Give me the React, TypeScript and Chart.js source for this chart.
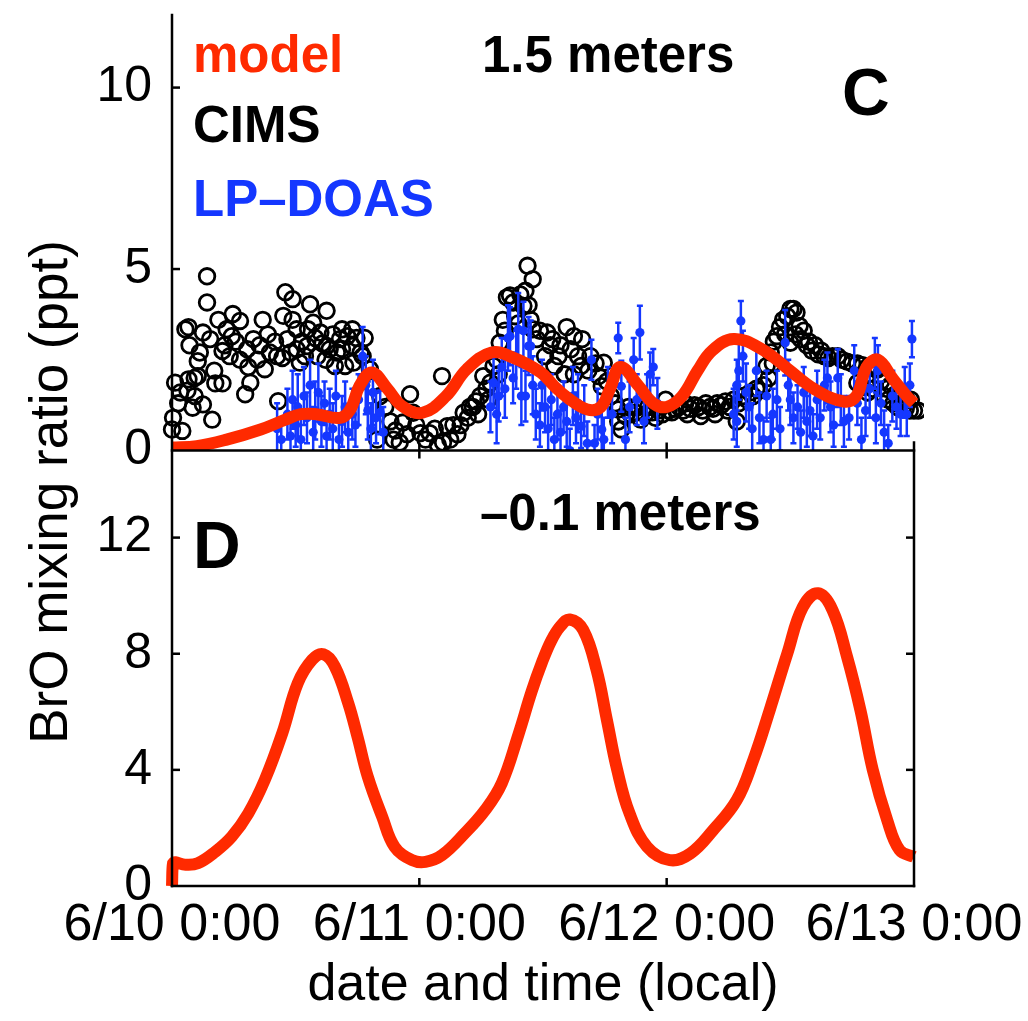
import { useEffect, useRef } from 'react';
import { Chart, registerables } from 'chart.js';

Chart.register(...registerables);

const FONT = "'Liberation Sans', Arial, Helvetica, sans-serif";
const RED = '#ff2a00';
const BLUE = '#1437ff';

// x axis: hours since 6/10 0:00 (local)
const xTickHours = [0, 24, 48, 72];
const xTickLabels = ['6/10 0:00', '6/11 0:00', '6/12 0:00', '6/13 0:00'];
const topTicks = [0, 5, 10];
const bottomTicks = [0, 4, 8, 12];

const legendLabels = ['model', 'CIMS', 'LP–DOAS'];
const panelTitles = ['1.5 meters', '–0.1 meters'];
const panelLetters = ['C', 'D'];
const xTitle = 'date and time (local)';
const yTitle = 'BrO mixing ratio (ppt)';

// model at 1.5 m  [hour, ppt]
const modelAir: [number, number][] = [
  [0, 0.08], [2.4, 0.12], [5.3, 0.3], [8.6, 0.58], [11, 0.85], [12.5, 1.0], [14, 1.0],
  [16.3, 0.9], [17.3, 1.13], [18.2, 1.78], [19.4, 2.15], [20.9, 1.7], [22.3, 1.23],
  [24.3, 1.04], [26.6, 1.5], [28.6, 2.24], [31, 2.7], [33.1, 2.56], [35.8, 2.15],
  [37.1, 1.77], [38.4, 1.45], [40.3, 1.13], [41.6, 1.2], [42.5, 1.7], [43.5, 2.3],
  [45.3, 1.77], [46.7, 1.3], [48.0, 1.2], [49.5, 1.5], [51.0, 2.2], [52.4, 2.75],
  [54.5, 3.07], [57.2, 2.8], [59.8, 2.24], [62.4, 1.68], [65.2, 1.35], [66.4, 1.5],
  [67.4, 2.3], [68.5, 2.5], [70.0, 1.96], [71.3, 1.5], [72, 1.3],
];

// model at -0.1 m (snowpack)  [hour, ppt]
const modelSnow: [number, number][] = [
  [0, 0], [0.1, 0.78], [1.3, 0.73], [2.5, 0.78], [4.2, 1.18], [5.8, 1.7], [7.4, 2.5],
  [9.0, 3.65], [10.7, 5.26], [12.2, 6.98], [13.6, 7.79], [14.7, 7.98], [15.8, 7.56],
  [17.1, 6.3], [18.0, 5.14], [19.0, 3.76], [20.4, 2.38], [21.6, 1.35], [23.3, 0.89],
  [24.6, 0.83], [26.2, 1.06], [28.4, 1.81], [30.4, 2.62], [32.0, 3.54], [33.6, 5.2],
  [34.9, 6.7], [35.9, 7.7], [36.8, 8.45], [37.7, 8.95], [38.6, 9.18], [39.9, 8.82], [41.2, 7.44],
  [42.2, 5.72], [43.2, 4.0], [44.4, 2.5], [46.1, 1.35], [48.3, 0.89], [50.3, 1.12],
  [52.5, 1.92], [54.8, 2.96], [56.4, 4.33], [58.0, 6.06], [59.7, 8.0], [61.2, 9.6],
  [62.7, 10.08], [64.1, 9.5], [65.5, 7.9], [66.8, 6.06], [68.0, 4.0], [69.4, 2.27],
  [70.6, 1.24], [72.0, 1.0],
];

// CIMS observations  [hour, ppt]
const cims: [number, number][] = [
  [0.0, 0.58], [1.0, 0.54], [0.1, 0.9], [0.3, 1.87], [0.8, 1.6], [1.5, 1.65], [1.6, 1.96],
  [1.6, 3.4], [1.3, 3.34], [2.2, 2.0], [2.5, 2.05], [2.0, 1.18], [3.0, 1.27], [2.5, 2.46],
  [3.9, 0.85], [3.4, 4.8], [3.4, 4.08], [3.0, 3.25], [3.7, 3.07], [4.2, 1.85], [4.9, 1.85],
  [4.5, 3.6], [5.3, 3.34], [4.9, 2.74], [5.9, 3.76], [6.6, 3.57], [5.8, 3.15], [6.6, 2.5],
  [1.7, 2.9], [2.7, 2.7], [5.1, 2.9], [6.2, 3.0], [4.1, 2.2], [5.6, 2.6], [0.6, 1.3], [2.2, 1.5],
  [7.1, 1.55], [7.6, 1.87], [7.3, 2.79], [7.9, 3.07], [8.3, 2.5], [8.8, 3.6], [9.0, 2.24],
  [9.5, 2.7], [10.2, 2.6], [10.3, 1.36], [11.0, 4.36], [11.7, 4.17], [10.8, 3.71], [11.7, 3.6],
  [12.1, 3.34], [11.2, 3.07], [12.1, 2.79], [13.4, 4.03], [13.2, 3.34], [13.1, 2.88],
  [13.7, 3.52], [15.0, 3.85], [14.4, 3.25], [15.0, 2.88], [14.1, 2.6], [15.3, 2.79],
  [12.4, 2.42], [16.5, 3.34], [17.0, 3.15], [17.5, 3.34], [16.3, 3.07], [17.5, 2.88],
  [15.8, 2.33], [16.8, 2.33], [17.6, 2.42], [18.3, 2.7], [18.5, 2.6], [19.2, 2.24],
  [19.5, 1.77], [20.2, 1.5], [8.5, 2.9], [10.0, 3.0], [12.6, 3.0], [14.6, 2.95], [16.0, 2.7],
  [17.9, 3.1], [9.3, 3.2], [11.5, 2.7], [13.9, 3.1], [15.6, 3.2], [7.4, 2.3], [10.7, 2.55],
  [12.9, 2.6], [14.9, 2.5], [16.5, 2.8], [18.7, 3.1],
  [19.9, 0.3], [21.2, 0.8], [21.5, 0.3], [22.1, 0.22], [22.4, 0.77], [23.1, 1.55], [23.4, 1.04],
  [24.1, 0.48], [25.0, 0.48], [26.2, 2.05], [26.7, 0.67], [26.3, 0.22], [27.3, 0.7], [28.0, 0.7],
  [28.3, 1.04], [20.7, 1.2], [21.7, 0.55], [22.8, 0.45], [23.7, 0.7], [24.6, 0.3], [25.5, 0.6],
  [25.8, 0.15], [27.0, 0.3], [27.7, 0.45], [28.7, 0.9],
  [28.9, 1.2], [29.2, 1.2], [29.9, 1.5], [30.2, 2.05], [30.9, 1.87], [31.2, 2.33], [31.8, 2.97],
  [32.5, 4.22], [32.8, 4.27], [32.1, 3.6], [33.1, 4.08], [34.5, 5.09], [35.0, 4.72], [34.3, 4.4],
  [34.1, 3.98], [34.8, 3.6], [35.0, 3.34], [35.4, 3.07], [29.5, 1.35], [30.5, 1.7], [31.5, 2.5],
  [32.3, 3.3], [33.3, 3.7], [33.6, 3.5], [33.8, 4.3], [34.6, 4.0], [35.7, 3.3], [29.7, 1.0],
  [30.7, 1.4], [31.7, 2.1],
  [36.4, 3.25], [36.9, 3.07], [38.3, 3.4], [39.0, 3.15], [39.8, 3.07], [38.7, 2.79], [37.1, 2.33],
  [39.7, 2.33], [40.4, 2.2], [41.4, 2.05], [41.7, 1.77], [38.1, 2.1], [39.0, 2.1], [41.9, 2.42],
  [37.7, 2.9], [36.2, 2.6], [37.5, 2.6], [40.6, 2.6], [41.1, 2.4], [42.2, 1.9], [42.6, 1.5],
  [43.0, 1.3], [43.3, 1.13], [43.6, 0.58], [43.3, 0.8], [36.7, 2.9], [39.4, 2.6],
  [44.0, 0.95], [44.5, 1.0], [45.0, 1.04], [45.5, 0.85], [45.9, 1.0], [46.2, 1.2], [46.6, 1.05],
  [47.2, 1.1], [47.6, 1.0], [47.9, 1.4], [48.2, 1.1], [48.5, 1.05], [48.8, 1.15], [49.2, 1.2],
  [49.6, 1.1], [50.0, 1.0], [50.3, 1.15], [50.7, 1.25], [51.1, 1.2], [51.5, 1.1], [51.8, 1.3],
  [52.2, 1.2], [52.5, 1.15], [52.9, 1.3], [53.3, 1.25], [53.7, 1.35], [54.1, 1.2], [54.5, 1.4],
  [54.8, 0.8], [55.0, 1.3], [55.4, 1.5], [55.8, 1.4], [56.1, 1.6], [56.4, 1.5], [56.7, 1.7],
  [57.0, 1.65], [57.4, 1.8], [57.7, 2.33], [44.3, 1.2], [45.2, 1.2], [46.9, 0.9], [49.8, 1.3],
  [51.3, 0.95], [52.7, 1.0], [53.9, 1.1],
  [58.1, 2.7], [58.4, 3.0], [58.7, 3.15], [59.0, 3.4], [59.3, 3.6], [59.7, 3.7], [60.0, 3.9],
  [60.3, 3.9], [60.6, 3.8], [60.9, 3.43], [60.0, 2.97], [61.0, 3.07], [61.6, 2.9], [62.1, 2.75],
  [62.7, 2.65], [63.3, 2.6], [57.9, 2.0], [58.3, 2.4], [59.5, 3.2], [60.5, 3.2], [61.3, 3.3],
  [61.8, 3.0], [62.4, 2.9], [63.0, 2.75], [63.7, 2.55],
  [64.1, 2.6], [64.6, 2.6], [65.0, 2.5], [65.5, 2.45], [66.0, 2.4], [66.5, 2.4], [67.0, 2.35],
  [67.5, 2.3], [67.9, 2.33], [68.3, 2.24], [68.5, 2.24], [66.5, 1.86], [67.0, 1.75], [67.5, 1.6],
  [68.0, 1.7], [69.1, 1.5], [69.5, 1.4], [70.0, 1.3], [70.4, 1.2], [70.8, 1.3], [71.2, 1.15],
  [71.6, 1.1], [71.7, 1.4], [72.0, 1.1], [72.4, 1.1], [68.8, 1.9], [69.3, 1.7], [69.7, 1.8],
  [70.2, 1.55], [70.7, 1.45], [71.3, 1.4],
];

// LP-DOAS observations  [hour, ppt, error]
const lpDoas: [number, number, number][] = [
  [10.2, 0.6, 0.7], [10.6, 0.3, 0.5], [11.2, 1.0, 0.7], [11.5, 0.4, 0.6], [11.7, 1.4, 0.8],
  [12.0, 0.7, 0.6], [12.2, 1.2, 0.9], [12.5, 0.3, 0.6], [12.8, 1.5, 0.8], [13.1, 0.9, 0.7],
  [13.4, 1.8, 0.7], [13.7, 0.5, 0.7], [13.9, 1.1, 0.8], [14.2, 1.6, 0.8], [14.5, 0.8, 0.7],
  [14.8, 1.3, 0.6], [15.0, 0.4, 0.6], [15.3, 1.0, 0.7], [15.6, 0.6, 0.7], [15.9, 1.5, 0.7],
  [16.2, 0.3, 0.5], [16.5, 0.8, 0.7], [16.8, 1.2, 0.7], [17.1, 0.5, 0.6], [17.5, 1.0, 0.7],
  [17.8, 0.7, 0.6], [18.1, 1.4, 0.7], [18.5, 2.6, 0.8], [18.8, 1.8, 0.8], [19.0, 1.1, 0.8],
  [19.3, 0.6, 0.7], [19.5, 1.6, 0.9], [19.8, 0.9, 0.7], [20.2, 1.05, 0.6], [20.5, 0.5, 0.7],
  [30.9, 1.2, 0.7], [31.2, 1.87, 0.7], [31.5, 1.0, 0.8], [31.7, 1.5, 0.7], [32.0, 2.3, 0.8],
  [32.3, 1.7, 0.8], [32.6, 3.1, 0.9], [32.8, 3.15, 0.8], [33.1, 2.0, 0.7], [33.4, 2.5, 0.8],
  [33.6, 3.34, 1.0], [33.9, 1.5, 0.8], [34.1, 3.3, 0.8], [34.3, 1.5, 0.7], [34.6, 2.88, 0.8],
  [34.8, 2.88, 0.7], [35.0, 1.8, 0.8], [35.3, 1.0, 0.7], [35.7, 0.7, 0.6], [35.9, 1.8, 0.7],
  [36.2, 1.2, 0.7], [36.5, 0.6, 0.6], [36.8, 1.4, 0.7], [37.1, 0.3, 0.6], [37.4, 1.0, 0.7],
  [37.7, 0.5, 0.6], [38.0, 1.2, 0.7], [38.3, 0.8, 0.7], [38.6, 0.0, 0.6], [38.9, 1.5, 0.8],
  [39.2, 0.9, 0.7], [39.4, 1.3, 0.8], [39.7, 0.67, 0.6], [40.0, 1.1, 0.7], [40.3, 0.2, 0.6],
  [40.7, 2.5, 0.55], [41.0, 0.2, 0.5], [41.3, 1.0, 0.7], [41.7, 0.58, 0.7], [41.9, 0.3, 0.6],
  [42.3, 1.6, 0.7], [42.7, 1.0, 0.8], [43.3, 3.1, 0.42], [43.6, 1.77, 0.7], [44.0, 0.3, 0.6],
  [44.4, 1.2, 0.7], [44.8, 2.5, 0.6], [45.1, 1.4, 0.7], [45.4, 3.25, 0.74], [45.8, 0.8, 0.6],
  [46.1, 1.5, 0.6], [46.4, 2.1, 0.6], [46.7, 2.3, 0.5], [47.1, 1.3, 0.7],
  [54.5, 1.0, 0.7], [54.8, 0.8, 0.7], [54.8, 1.8, 0.7], [55.0, 2.2, 0.8], [55.2, 3.57, 0.55],
  [55.4, 2.6, 0.7], [55.7, 1.6, 0.8], [56.0, 1.2, 0.6], [56.3, 0.6, 0.7], [56.7, 2.2, 0.7],
  [57.0, 0.9, 0.7], [57.4, 0.3, 0.6], [57.7, 1.5, 0.7], [58.1, 0.3, 0.6], [58.3, 1.0, 0.7],
  [58.7, 1.4, 0.8], [59.0, 0.6, 0.6], [59.5, 2.97, 0.9], [59.8, 1.8, 0.7], [60.0, 1.4, 0.7],
  [60.3, 0.9, 0.7], [60.7, 1.2, 0.6], [61.0, 0.5, 0.6], [61.3, 1.6, 0.7], [61.6, 0.8, 0.7],
  [61.9, 1.1, 0.7], [62.2, 0.4, 0.6], [62.6, 1.4, 0.8], [62.9, 0.9, 0.6], [63.3, 1.8, 0.7],
  [63.6, 2.0, 0.7], [63.9, 1.2, 0.7], [64.2, 0.7, 0.6], [64.6, 2.0, 0.8], [64.9, 1.4, 0.7],
  [65.2, 0.8, 0.7], [65.7, 0.9, 0.6], [66.2, 2.2, 0.7], [66.5, 1.3, 0.6], [66.9, 0.3, 0.6],
  [67.3, 1.1, 0.7], [67.7, 1.7, 0.8], [68.2, 2.4, 0.7], [68.3, 0.9, 0.7], [68.5, 2.2, 0.7],
  [68.8, 1.3, 0.6], [69.1, 0.5, 0.6], [69.5, 0.2, 0.5], [69.9, 1.5, 0.7], [70.3, 1.2, 0.6],
  [70.7, 1.0, 0.6], [71.1, 1.6, 0.7], [71.3, 1.0, 0.6], [71.6, 1.8, 0.6], [71.8, 3.07, 0.5],
];

const DOAS_INDEX = 1;

const errorBarPlugin = {
  id: 'errorBars',
  beforeDatasetDraw(chart: any, args: any) {
    if (args.index !== DOAS_INDEX) return;
    const x = chart.scales.x;
    const y = chart.scales.yC;
    const ca = chart.chartArea;
    const ctx = chart.ctx;
    ctx.save();
    ctx.beginPath();
    ctx.rect(ca.left - 10, y.top, ca.right - ca.left + 20, y.bottom - y.top);
    ctx.clip();
    ctx.strokeStyle = BLUE;
    ctx.lineWidth = 2.5;
    for (const [h, v, e] of lpDoas) {
      const px = x.getPixelForValue(h);
      const y1 = y.getPixelForValue(v - e);
      const y2 = y.getPixelForValue(v + e);
      ctx.beginPath();
      ctx.moveTo(px, y1);
      ctx.lineTo(px, y2);
      ctx.moveTo(px - 3, y1);
      ctx.lineTo(px + 3, y1);
      ctx.moveTo(px - 3, y2);
      ctx.lineTo(px + 3, y2);
      ctx.stroke();
    }
    ctx.restore();
  },
};

const framePlugin = {
  id: 'frame',
  afterDatasetsDraw(chart: any) {
    const ctx = chart.ctx;
    const ca = chart.chartArea;
    const x = chart.scales.x;
    const yC = chart.scales.yC;
    const yD = chart.scales.yD;
    const mid = yC.bottom;
    const TL = 8;
    const line = (x1: number, y1: number, x2: number, y2: number) => {
      ctx.beginPath();
      ctx.moveTo(x1, y1);
      ctx.lineTo(x2, y2);
      ctx.stroke();
    };
    ctx.save();
    ctx.strokeStyle = '#000';
    ctx.lineWidth = 2.5;
    ctx.lineCap = 'square';
    line(ca.left, ca.top, ca.left, ca.bottom);
    line(ca.left, mid, ca.right, mid);
    line(ca.left, ca.bottom, ca.right, ca.bottom);
    line(ca.right, mid - TL, ca.right, ca.bottom);
    ctx.lineCap = 'butt';
    topTicks.filter((v) => v > 0).forEach((v) => {
      const py = yC.getPixelForValue(v);
      line(ca.left, py, ca.left + TL, py);
    });
    bottomTicks.filter((v) => v > 0).forEach((v) => {
      const py = yD.getPixelForValue(v);
      line(ca.left, py, ca.left + TL, py);
      line(ca.right, py, ca.right - TL, py);
    });
    xTickHours.filter((h) => h > 0 && h < 72).forEach((h) => {
      const px = x.getPixelForValue(h);
      line(px, mid - TL, px, mid + TL);
      line(px, ca.bottom, px, ca.bottom - TL);
    });
    ctx.restore();
  },
};

const textPlugin = {
  id: 'texts',
  afterDraw(chart: any) {
    const ctx = chart.ctx;
    const ca = chart.chartArea;
    const yC = chart.scales.yC;
    ctx.save();
    ctx.textBaseline = 'alphabetic';
    ctx.textAlign = 'left';
    ctx.font = `bold 51px ${FONT}`;
    const colors = [RED, '#000', BLUE];
    const baselines = [72, 142, 216];
    legendLabels.forEach((t, i) => {
      ctx.fillStyle = colors[i];
      ctx.fillText(t, ca.left + 21, baselines[i]);
    });
    ctx.fillStyle = '#000';
    ctx.fillText(panelTitles[0], 482, 72);
    ctx.fillText(panelTitles[1], 480, yC.bottom + 79);
    ctx.font = `bold 66px ${FONT}`;
    ctx.fillText(panelLetters[0], 842, 115);
    ctx.fillText(panelLetters[1], ca.left + 21, yC.bottom + 117);
    ctx.font = `52px ${FONT}`;
    ctx.textAlign = 'center';
    ctx.fillText(xTitle, (ca.left + ca.right) / 2, 1000);
    ctx.font = `53px ${FONT}`;
    ctx.translate(67, 492);
    ctx.rotate(-Math.PI / 2);
    ctx.fillText(yTitle, 0, 0);
    ctx.restore();
  },
};

export default function App() {
  const ref = useRef<HTMLCanvasElement | null>(null);
  useEffect(() => {
    if (!ref.current) return;
    const yTickFont = { family: FONT, size: 50 };
    const xTickFont = { family: FONT, size: 52 };
    const topClip = { left: 10, top: 0, right: 10, bottom: 0 };
    const chart = new Chart(ref.current, {
      type: 'scatter',
      data: {
        datasets: [
          {
            label: 'model',
            data: modelAir.map(([h, v]) => ({ x: h, y: v })),
            xAxisID: 'x',
            yAxisID: 'yC',
            showLine: true,
            borderColor: RED,
            borderWidth: 12,
            pointRadius: 0,
            tension: 0.4,
            order: 0,
            clip: topClip,
          } as any,
          {
            label: 'LP-DOAS',
            data: lpDoas.map(([h, v]) => ({ x: h, y: v })),
            xAxisID: 'x',
            yAxisID: 'yC',
            pointRadius: 4.6,
            backgroundColor: BLUE,
            borderWidth: 0,
            order: 1,
            clip: topClip,
          } as any,
          {
            label: 'CIMS',
            data: cims.map(([h, v]) => ({ x: h, y: v })),
            xAxisID: 'x',
            yAxisID: 'yC',
            pointRadius: 7.8,
            borderColor: '#000',
            borderWidth: 2.8,
            backgroundColor: 'rgba(0,0,0,0)',
            order: 2,
            clip: topClip,
          } as any,
          {
            label: 'model snow',
            data: modelSnow.map(([h, v]) => ({ x: h, y: v })),
            xAxisID: 'x',
            yAxisID: 'yD',
            showLine: true,
            borderColor: RED,
            borderWidth: 12,
            pointRadius: 0,
            tension: 0.4,
            order: 0,
            clip: { left: 6, top: 0, right: 6, bottom: 0 },
          } as any,
        ],
      },
      options: {
        animation: false,
        responsive: false,
        maintainAspectRatio: false,
        events: [],
        layout: { padding: { left: 0, top: 15, right: 114, bottom: 0 }, autoPadding: false },
        plugins: { legend: { display: false }, tooltip: { enabled: false } },
        scales: {
          x: {
            type: 'linear',
            position: 'bottom',
            min: 0,
            max: 72,
            afterBuildTicks: (s: any) => {
              s.ticks = xTickHours.map((v) => ({ value: v }));
            },
            afterFit: (s: any) => {
              s.height = 135;
              s.paddingLeft = 0;
              s.paddingRight = 0;
            },
            ticks: {
              font: xTickFont,
              color: '#000',
              padding: 8,
              maxRotation: 0,
              autoSkip: false,
              callback: (v: any) => xTickLabels[xTickHours.indexOf(Number(v))] ?? '',
            },
            grid: { display: false, drawTicks: false },
            border: { display: false },
          },
          yD: {
            type: 'linear',
            position: 'left',
            stack: 'panels',
            stackWeight: 1,
            min: 0,
            max: 15,
            afterBuildTicks: (s: any) => {
              s.ticks = bottomTicks.map((v) => ({ value: v }));
            },
            afterFit: (s: any) => {
              s.width = 172;
              s.paddingTop = 0;
              s.paddingBottom = 0;
            },
            ticks: { font: yTickFont, color: '#000', padding: 20 },
            grid: { display: false, drawTicks: false },
            border: { display: false },
          },
          yC: {
            type: 'linear',
            position: 'left',
            stack: 'panels',
            stackWeight: 1,
            min: 0,
            max: 12,
            afterBuildTicks: (s: any) => {
              s.ticks = topTicks.map((v) => ({ value: v }));
            },
            afterFit: (s: any) => {
              s.width = 172;
              s.paddingTop = 0;
              s.paddingBottom = 0;
            },
            ticks: { font: yTickFont, color: '#000', padding: 20 },
            grid: { display: false, drawTicks: false },
            border: { display: false },
          },
        } as any,
      },
      plugins: [errorBarPlugin, framePlugin, textPlugin],
    });
    return () => chart.destroy();
  }, []);

  return (
    <div style={{ position: 'fixed', left: 0, top: 0, width: 1028, height: 1021, background: '#fff' }}>
      <canvas ref={ref} width={1028} height={1021} style={{ display: 'block', width: 1028, height: 1021 }} />
    </div>
  );
}
